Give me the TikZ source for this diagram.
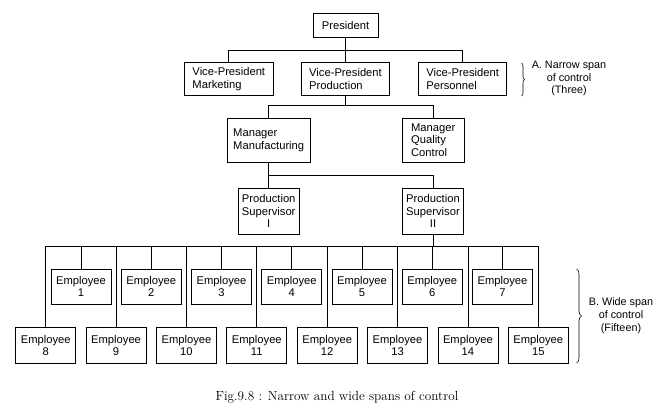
\documentclass[tikz,border=0pt]{standalone}
\usepackage{fontspec}
\setsansfont{Liberation Sans}
\usetikzlibrary{decorations.pathreplacing}

\tikzset{
  box/.style={draw, line width=0.8pt, inner sep=1pt, font=\sffamily\fontsize{11.2}{13}\selectfont},
  boss/.style={box, align=left, minimum height=33pt},
  super/.style={box, align=center, minimum width=61pt, minimum height=46pt, font=\sffamily\fontsize{11.2}{12.5}\selectfont},
  emp/.style={box, align=center, minimum width=60pt, minimum height=35pt, font=\sffamily\fontsize{11.2}{12}\selectfont},
  note/.style={align=center, font=\sffamily\fontsize{10.8}{12.8}\selectfont},
  span/.style={decorate, decoration={brace, amplitude=#1}, line width=0.6pt},
}

\begin{document}
\begin{tikzpicture}[x=1pt, y=-1pt, line width=0.8pt]
\useasboundingbox (0,0) rectangle (672,420);

% --- top levels ---
\node[box, minimum width=65pt, minimum height=24pt] (pres) at (345.5,25) {President};
\node[boss, minimum width=89pt] (vpm) at (228.8,79.2) {Vice-President\\Marketing};
\node[boss, minimum width=88pt] (vpp) at (345.5,79.2) {Vice-President\\Production};
\node[boss, minimum width=88pt] (vpr) at (462.7,79.2) {Vice-President\\Personnel};
\node[boss, minimum width=83pt, minimum height=44pt] (mmf) at (268.7,140.3) {Manager\\Manufacturing};
\node[boss, minimum width=62pt, minimum height=44pt, font=\sffamily\fontsize{11.2}{12.3}\selectfont] (mqc) at (433.2,140.2) {Manager\\Quality\\Control};
\node[super] (ps1) at (268.7,211) {Production\\Supervisor\\I};
\node[super] (ps2) at (433,211) {Production\\Supervisor\\II};

% bus levels
\coordinate (busA) at (0,50.7);
\coordinate (busB) at (0,105);
\coordinate (busC) at (0,175);
\coordinate (busD) at (0,246.5);

\draw (pres.south) -- (vpp.north);
\draw (vpm.north) |- (vpr.north |- busA) -- (vpr.north);
\draw (vpp.south) -- (vpp.south |- busB);
\draw (mmf.north) |- (mqc.north |- busB) -- (mqc.north);
\draw (mmf.south) -- (ps1.north);
\draw (mmf.south |- busC) -| (ps2.north);

% --- employees (fifteen) ---
\foreach \i in {1,...,7}
  \node[emp] (e\i) at ({81+70.25*(\i-1)},286.5) {Employee\\\i};
\foreach \i in {8,...,15}
  \node[emp, minimum height=36pt] (e\i) at ({45.7+70.37*(\i-8)},345) {Employee\\\i};

\draw (ps2.south) -- (ps2.south |- busD);
\draw (e8.north) |- (e15.north |- busD) -- (e15.north);
\foreach \i in {1,...,7,9,10,11,12,13,14}
  \draw (e\i.north) -- (e\i.north |- busD);

% --- braces and notes ---
\draw[span=3pt] (521.5,63) -- (521.5,96);
\node[note] (spanA) at (569,78.5) {A. Narrow span\\of control\\(Three)};
\draw[span=5pt] (576.5,269) -- (576.5,363);
\node[note] (spanB) at (621,316) {B. Wide span\\of control\\(Fifteen)};

\node[font=\fontsize{13.2}{15}\selectfont] (cap) at (337,397) {Fig.9.8 : Narrow and wide spans of control};

\end{tikzpicture}
\end{document}
